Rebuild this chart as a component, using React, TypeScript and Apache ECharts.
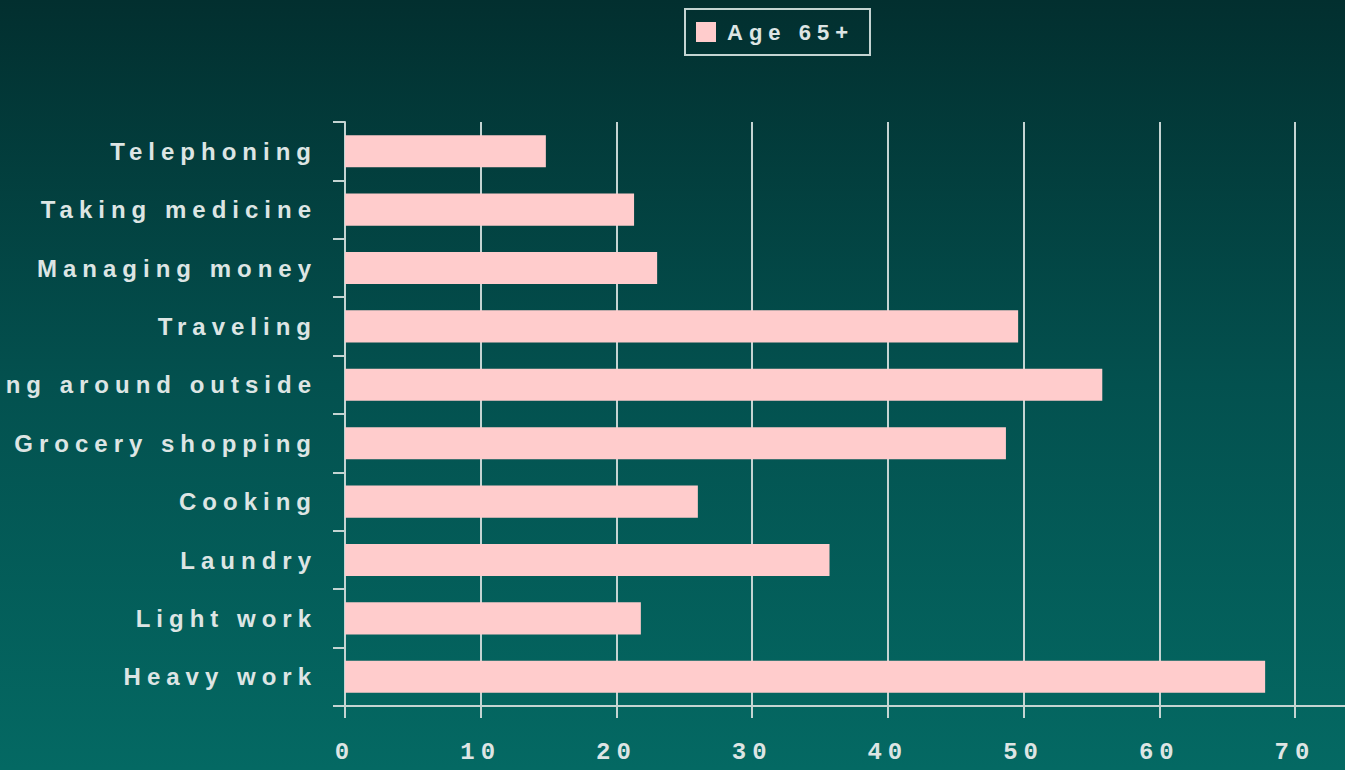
import React, { useEffect, useRef } from "react";
import * as echarts from "echarts";

const categories = [
  "Telephoning",
  "Taking medicine",
  "Managing money",
  "Traveling",
  "Getting around outside",
  "Grocery shopping",
  "Cooking",
  "Laundry",
  "Light work",
  "Heavy work",
];
const values = [14.8, 21.3, 23.0, 49.6, 55.8, 48.7, 26.0, 35.7, 21.8, 67.8];
const seriesName = "Age 65+";
const xMin = 0;
const xMax = 70;
const xInterval = 10;

const lineColor = "#c4d4d2";
const textColor = "#dde5e4";

export default function App() {
  const ref = useRef<HTMLDivElement>(null);
  useEffect(() => {
    if (!ref.current) return;
    const chart = echarts.init(ref.current, null, { renderer: "svg" });
    chart.setOption({
      animation: false,
      backgroundColor: {
        type: "linear",
        x: 0,
        y: 0,
        x2: 0,
        y2: 1,
        colorStops: [
          { offset: 0, color: "#022f2f" },
          { offset: 0.5, color: "#03514f" },
          { offset: 1, color: "#046963" },
        ],
      },
      legend: {
        show: true,
        left: 685,
        top: 9,
        data: [{ name: seriesName, icon: "rect" }],
        itemWidth: 20,
        itemHeight: 20,
        itemGap: 6,
        padding: [12, 58, 12, 11],
        borderColor: lineColor,
        borderWidth: 2,
        textStyle: {
          color: textColor,
          fontFamily: "Liberation Sans, Arial, sans-serif",
          fontWeight: "bold",
          fontSize: 22,
          padding: [0, 0, 0, 6],
        },
      },
      grid: { left: 345, right: 50, top: 122, bottom: 64, containLabel: false },
      xAxis: {
        type: "value",
        min: xMin,
        max: xMax,
        interval: xInterval,
        axisLine: { show: true, lineStyle: { color: lineColor, width: 2 } },
        axisTick: { show: true, length: 12, lineStyle: { color: lineColor, width: 2 } },
        splitLine: { show: true, lineStyle: { color: lineColor, width: 2 } },
        axisLabel: {
          color: textColor,
          margin: 34,
          fontFamily: "Liberation Mono, monospace",
          fontWeight: "bold",
          fontSize: 24,
        },
      },
      yAxis: {
        type: "category",
        data: categories,
        inverse: true,
        axisLine: { show: true, lineStyle: { color: lineColor, width: 2 } },
        axisTick: { show: true, length: 12, lineStyle: { color: lineColor, width: 2 } },
        splitLine: { show: false },
        axisLabel: {
          color: textColor,
          margin: 28,
          fontFamily: "Liberation Sans, Arial, sans-serif",
          fontWeight: "bold",
          fontSize: 24,
        },
      },
      series: [
        {
          name: seriesName,
          type: "bar",
          data: values,
          barWidth: "55%",
          itemStyle: { color: "#ffcccc" },
        },
      ],
      graphic: [
        {
          type: "line",
          shape: { x1: 1295, y1: 706, x2: 1345, y2: 706 },
          style: { stroke: lineColor, lineWidth: 2 },
          silent: true,
        },
      ],
    });
    return () => chart.dispose();
  }, []);
  return (
    <>
      <style>{`body{margin:0;} .chart-host text{letter-spacing:6px;}`}</style>
      <div
        ref={ref}
        className="chart-host"
        style={{ position: "absolute", left: 0, top: 0, width: 1345, height: 770 }}
      />
    </>
  );
}
